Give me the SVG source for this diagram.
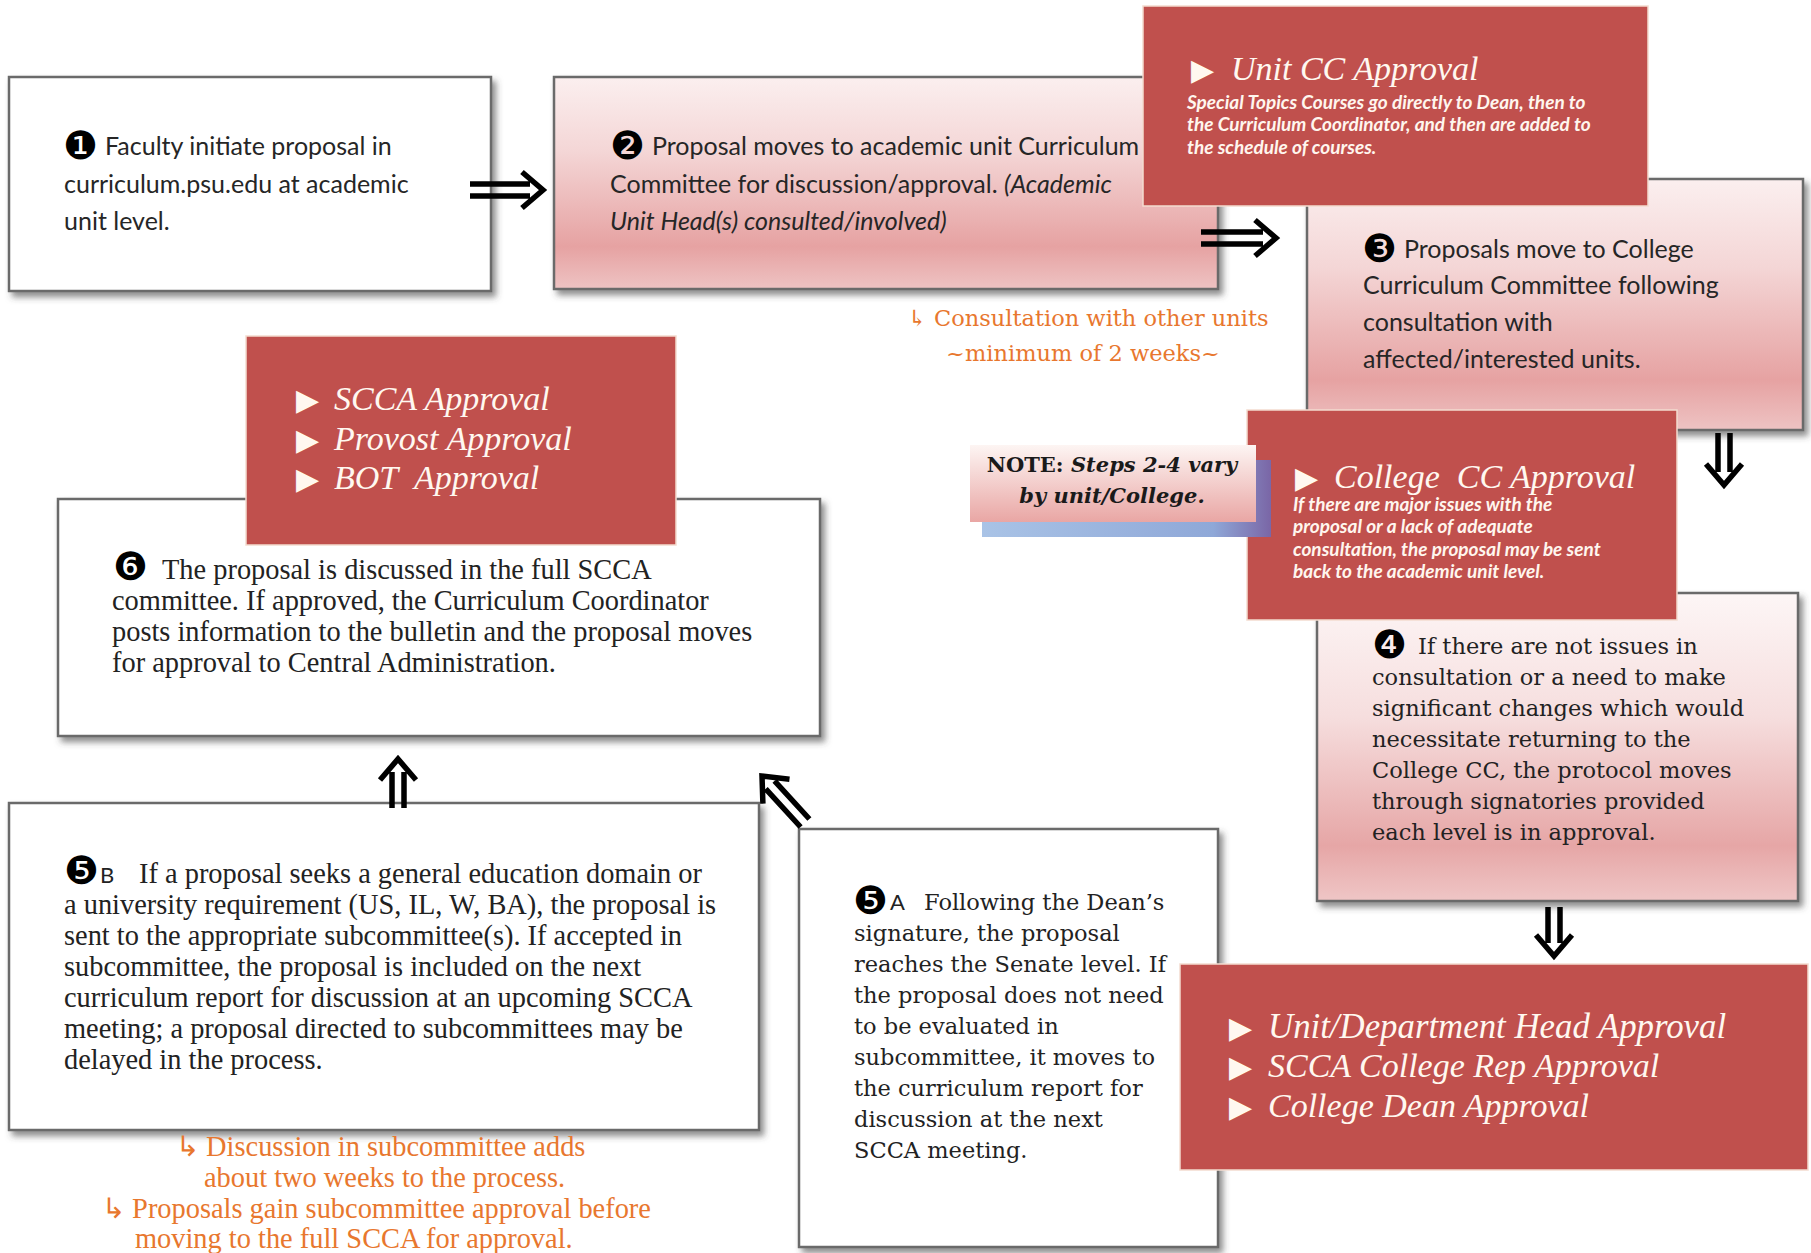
<svg xmlns="http://www.w3.org/2000/svg" width="1811" height="1253" viewBox="0 0 1811 1253">
<style>
.sans{font-family:Lato,"Open Sans",sans-serif;font-size:25px;fill:#262626}
.serif{font-family:"DejaVu Serif",serif;font-size:22.5px;fill:#222}
.cond{font-family:"Liberation Serif",serif;font-size:28.4px;fill:#222}
.num{font-family:"DejaVu Sans",sans-serif;font-size:39px;fill:#000}
.lab{font-family:Lato,"Open Sans",sans-serif;font-size:22px;fill:#222}
.title{font-family:"Liberation Serif",serif;font-style:italic;font-size:34px;fill:#fff8f0}
.bul{font-family:"DejaVu Sans",sans-serif;font-style:normal;font-size:30px;fill:#fff8f0}
.sub{font-family:Lato,"Open Sans",sans-serif;font-style:italic;font-weight:bold;font-size:19px;fill:#fff6ee}
.orange{fill:#e8772e}
.box{stroke:#6a6a6a;stroke-width:2.5;filter:url(#sh)}
.red{fill:#c0504d;stroke:#f3dccf;stroke-width:1.5}
.arrow{fill:none;stroke:#000;stroke-width:5.5}
</style>
<defs>
<filter id="sh" x="-5%" y="-5%" width="115%" height="115%">
<feDropShadow dx="4" dy="5" stdDeviation="3" flood-color="#444" flood-opacity="0.6"/>
</filter>
<linearGradient id="pink" x1="0" y1="0" x2="0" y2="1">
<stop offset="0" stop-color="#fbefef"/>
<stop offset="0.35" stop-color="#f4d6d6"/>
<stop offset="0.8" stop-color="#e6a2a2"/>
<stop offset="1" stop-color="#eec3c3"/>
</linearGradient>
<linearGradient id="pink4" x1="0" y1="0" x2="0" y2="1">
<stop offset="0" stop-color="#fdf6f6"/>
<stop offset="0.4" stop-color="#f6dede"/>
<stop offset="0.82" stop-color="#e6a6a6"/>
<stop offset="1" stop-color="#efc6c6"/>
</linearGradient>
<linearGradient id="note" x1="0" y1="0" x2="0" y2="1">
<stop offset="0" stop-color="#fdf5f3"/>
<stop offset="1" stop-color="#e9a6a4"/>
</linearGradient>
<linearGradient id="blue" x1="0" y1="0" x2="1" y2="0">
<stop offset="0" stop-color="#a9c3e6"/>
<stop offset="0.8" stop-color="#8fa8d8"/>
<stop offset="1" stop-color="#7a66a6"/>
</linearGradient>
</defs>
<rect width="1811" height="1253" fill="#fff"/>

<g id="box1">
<rect class="box" x="9" y="77" width="482" height="214" fill="#fff"/>
<text class="num" x="63" y="159">❶</text>
<text class="sans"><tspan x="105" y="155">Faculty initiate proposal in</tspan><tspan x="64" y="193">curriculum.psu.edu at academic</tspan><tspan x="64" y="230">unit level.</tspan></text>
</g>

<g id="box2">
<rect class="box" x="554" y="77" width="664" height="212" fill="url(#pink)"/>
<text class="num" x="610" y="159">❷</text>
<text class="sans"><tspan x="652" y="155">Proposal moves to academic unit Curriculum</tspan><tspan x="610" y="193">Committee for discussion/approval. <tspan font-style="italic">(Academic</tspan></tspan><tspan x="610" y="230" font-style="italic">Unit Head(s) consulted/involved)</tspan></text>
</g>

<g id="box3">
<rect class="box" x="1307" y="179" width="496" height="251" fill="url(#pink)"/>
<text class="num" x="1362" y="262">❸</text>
<text class="sans"><tspan x="1404" y="258">Proposals move to College</tspan><tspan x="1363" y="294">Curriculum Committee following</tspan><tspan x="1363" y="331">consultation with</tspan><tspan x="1363" y="368">affected/interested units.</tspan></text>
</g>

<g id="box4">
<rect class="box" x="1317" y="593" width="481" height="308" fill="url(#pink4)"/>
<text class="num" x="1372" y="658">❹</text>
<text class="serif"><tspan x="1418" y="654">If there are not issues in</tspan><tspan x="1372" y="685">consultation or a need to make</tspan><tspan x="1372" y="716">significant changes which would</tspan><tspan x="1372" y="747">necessitate returning to the</tspan><tspan x="1372" y="778">College CC, the protocol moves</tspan><tspan x="1372" y="809">through signatories provided</tspan><tspan x="1372" y="840">each level is in approval.</tspan></text>
</g>

<g id="box5b">
<rect class="box" x="9" y="803" width="750" height="327" fill="#fff"/>
<text class="num" x="64" y="884" font-size="36">❺</text>
<text class="lab" x="100" y="883">B</text>
<text class="cond" font-size="27.5"><tspan x="139" y="883">If a proposal seeks a general education domain or</tspan><tspan x="64" y="914">a university requirement (US, IL, W, BA), the proposal is</tspan><tspan x="64" y="945">sent to the appropriate subcommittee(s).  If accepted in</tspan><tspan x="64" y="976">subcommittee, the proposal is included on the next</tspan><tspan x="64" y="1007">curriculum report for discussion at an upcoming SCCA</tspan><tspan x="64" y="1038">meeting; a proposal directed to subcommittees may be</tspan><tspan x="64" y="1069">delayed in the process.</tspan></text>
</g>

<g id="box5a">
<rect class="box" x="799" y="829" width="419" height="418" fill="#fff"/>
<text class="num" x="853" y="914">❺</text>
<text class="lab" x="890" y="910">A</text>
<text class="serif"><tspan x="924" y="910">Following the Dean’s</tspan><tspan x="854" y="941">signature, the proposal</tspan><tspan x="854" y="972">reaches the Senate level.  If</tspan><tspan x="854" y="1003">the proposal does not need</tspan><tspan x="854" y="1034">to be evaluated in</tspan><tspan x="854" y="1065">subcommittee, it moves to</tspan><tspan x="854" y="1096">the curriculum report for</tspan><tspan x="854" y="1127">discussion at the next</tspan><tspan x="854" y="1158">SCCA meeting.</tspan></text>
</g>

<g id="box6">
<rect class="box" x="58" y="499" width="762" height="237" fill="#fff"/>
<text class="num" x="113" y="580" font-size="36">❻</text>
<text class="cond"><tspan x="162" y="579">The proposal is discussed in the full SCCA</tspan><tspan x="112" y="610">committee.  If approved, the Curriculum Coordinator</tspan><tspan x="112" y="641">posts information to the bulletin and the proposal moves</tspan><tspan x="112" y="672">for approval to Central Administration.</tspan></text>
</g>

<g id="unit-cc">
<rect class="red" x="1143" y="6" width="505" height="200"/>
<text class="title" y="80"><tspan class="bul" x="1191">▶</tspan><tspan x="1231">Unit CC Approval</tspan></text>
<text class="sub"><tspan x="1187" y="109">Special Topics Courses go directly to Dean, then to</tspan><tspan x="1187" y="131">the Curriculum Coordinator, and then are added to</tspan><tspan x="1187" y="154">the schedule of courses.</tspan></text>
</g>

<g id="college-cc">
<rect class="red" x="1247" y="410" width="430" height="210"/>
<text class="title" y="488" xml:space="preserve"><tspan class="bul" x="1295">▶</tspan><tspan x="1334">College  CC Approval</tspan></text>
<text class="sub"><tspan x="1293" y="511">If there are major issues with the</tspan><tspan x="1293" y="533">proposal or a lack of adequate</tspan><tspan x="1293" y="556">consultation, the proposal may be sent</tspan><tspan x="1293" y="578">back to the academic unit level.</tspan></text>
</g>

<g id="note">
<rect x="982" y="460" width="289" height="77" fill="url(#blue)"/>
<rect x="970" y="445" width="286" height="77" fill="url(#note)"/>
<text font-family="'DejaVu Serif',serif" font-size="21" font-weight="bold" fill="#1a1a1a" text-anchor="middle"><tspan x="1112" y="472">NOTE: <tspan font-style="italic">Steps 2-4 vary</tspan></tspan><tspan x="1112" y="503" font-style="italic">by unit/College.</tspan></text>
</g>

<g id="scca">
<rect class="red" x="246" y="336" width="430" height="209"/>
<text class="title" xml:space="preserve"><tspan class="bul" x="296" y="410">▶</tspan><tspan x="334" y="410">SCCA Approval</tspan><tspan class="bul" x="296" y="450">▶</tspan><tspan x="334" y="450">Provost Approval</tspan><tspan class="bul" x="296" y="489">▶</tspan><tspan x="334" y="489">BOT  Approval</tspan></text>
</g>

<g id="dept">
<rect class="red" x="1180" y="964" width="628" height="206"/>
<text class="title"><tspan class="bul" x="1229" y="1038">▶</tspan><tspan x="1268" y="1038" font-size="34.8">Unit/Department Head Approval</tspan><tspan class="bul" x="1229" y="1077">▶</tspan><tspan x="1268" y="1077">SCCA College Rep Approval</tspan><tspan class="bul" x="1229" y="1117">▶</tspan><tspan x="1268" y="1117">College Dean Approval</tspan></text>
</g>

<g id="consult-note">
<text class="serif orange"><tspan x="908" y="326">↳ Consultation with other units</tspan><tspan x="1083" y="361" text-anchor="middle">~minimum of 2 weeks~</tspan></text>
</g>

<g id="subcommittee-note">
<text class="cond orange" font-size="27"><tspan x="176" y="1156">↳ Discussion in subcommittee adds</tspan><tspan x="204" y="1187">about two weeks to the process.</tspan><tspan x="102" y="1218">↳ Proposals gain subcommittee approval before</tspan><tspan x="135" y="1248">moving to the full SCCA for approval.</tspan></text>
</g>

<g id="connectors">
<path class="arrow" d="M470 184H530M470 196H530M522 172L543 190L522 208"/>
<path class="arrow" d="M1201 232H1263M1201 244H1263M1255 220L1276 238L1255 256"/>
<path class="arrow" d="M1718 433V472M1730 433V472M1706 464L1724 485L1742 464"/>
<path class="arrow" d="M1548 907V943M1560 907V943M1536 935L1554 956L1572 935"/>
<path class="arrow" d="M392 808V772M404 808V772M380 780L398 759L416 780"/>
<path class="arrow" d="M809.4 819L774.5 780.8M800.6 827L765.7 788.9M789.5 779.3L762 776L762.9 803.7"/>
</g>
</svg>
